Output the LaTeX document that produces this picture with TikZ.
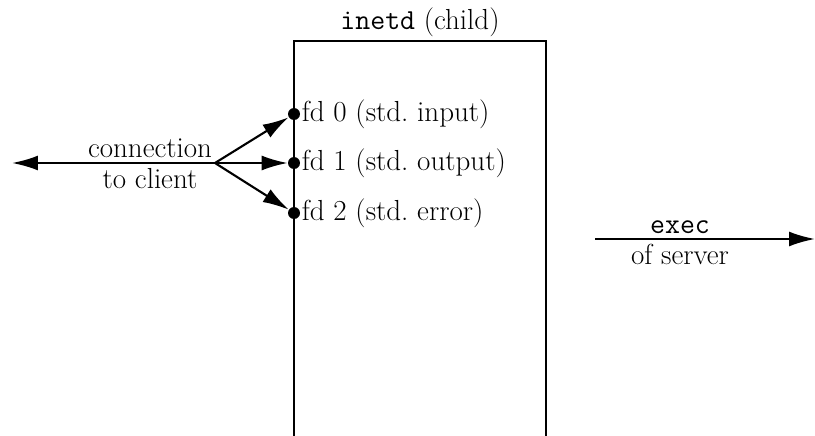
\documentclass[tikz,border=0pt]{standalone}
\usepackage{tikz}
\usetikzlibrary{arrows.meta, positioning, calc}
\tikzset{
    fdarrow/.style={-{Latex[length=5.2mm, width=3mm]}, line width=1.2pt},
    fddot/.style={circle, fill, inner sep=0pt, minimum size=2.4mm},
    fdlabel/.style={anchor=west, inner sep=2pt, font=\fontsize{16.5}{19}\selectfont},
    plainlabel/.style={font=\fontsize{16.5}{19}\selectfont, inner sep=1pt},
    procbox/.style={line width=1pt}
}
\begin{document}
\begin{tikzpicture}[x=0.02cm, y=-0.02cm]
  \useasboundingbox (0,0) rectangle (815,436);
  % child process box, open at the bottom
  \draw[procbox] (294,436) -- (294,41) -- (546,41) -- (546,436);
  \node[plainlabel] (title) at (420,22) {\texttt{inetd} (child)};
  % descriptors
  \node[fddot] (fd0) at (294,114) {};
  \node[fddot] (fd1) at (294,163) {};
  \node[fddot] (fd2) at (294,213) {};
  \node[fdlabel] (l0) at (298,114) {fd 0 (std.\ input)};
  \node[fdlabel] (l1) at (298,163) {fd 1 (std.\ output)};
  \node[fdlabel] (l2) at (298,213) {fd 2 (std.\ error)};
  % connection to client
  \coordinate (br) at (215,163);
  \coordinate (cl) at (12,163);
  \node[plainlabel, anchor=south] (conn) at (150,160) {connection};
  \node[plainlabel, anchor=north] (tocl) at (150,166) {to client};
  \draw[fdarrow] (br) -- (cl);
  \draw[fdarrow] (br) -- (fd0);
  \draw[fdarrow] (br) -- (fd1);
  \draw[fdarrow] (br) -- (fd2);
  % exec of server
  \coordinate (ex0) at (595,239);
  \coordinate (ex1) at (815,239);
  \node[plainlabel, anchor=south] (exec) at (680,236) {\texttt{exec}};
  \node[plainlabel, anchor=north] (srv) at (680,242) {of server};
  \draw[fdarrow] (ex0) -- (ex1);
\end{tikzpicture}
\end{document}
